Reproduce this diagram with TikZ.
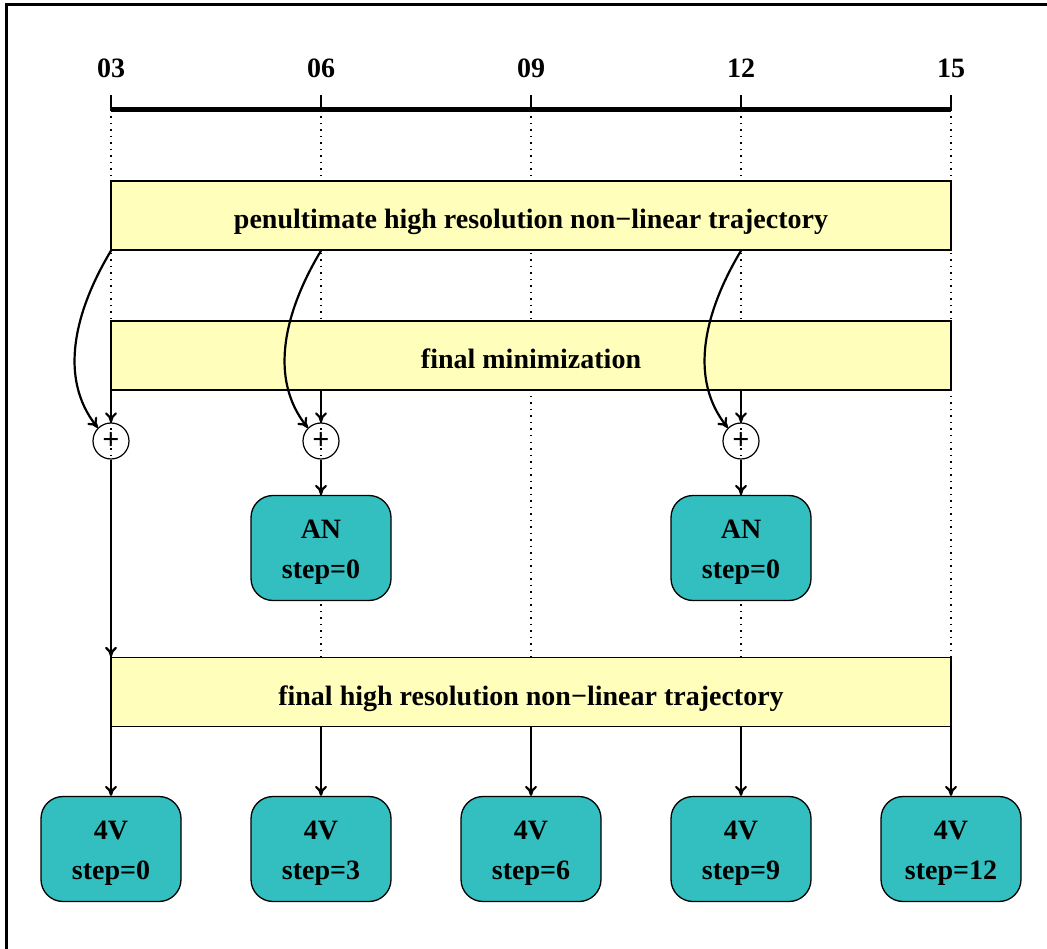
\documentclass[tikz,border=0pt]{standalone}
\usepackage{fontspec}
\setmainfont{Liberation Serif}
\usetikzlibrary{arrows.meta}
\definecolor{bandc}{RGB}{255,255,187}
\definecolor{tealc}{RGB}{51,191,191}
\newcommand{\topstrut}{\rule{0pt}{27pt}}
\begin{document}
\begin{tikzpicture}[x=1pt,y=-1pt,
  txt/.style={font=\fontsize{28}{40}\selectfont\bfseries},
  band/.style={txt, draw, line width=1.4pt, fill=bandc, minimum width=840pt, minimum height=69pt, inner sep=0pt, text height=26pt, text depth=0pt},
  box/.style={txt, draw, line width=1.3pt, fill=tealc, rounded corners=22pt, minimum width=140pt, minimum height=105pt, align=center, inner sep=0pt},
  plus/.style={draw, line width=1.2pt, circle, minimum size=36pt, inner sep=0pt, font=\fontsize{30}{30}\selectfont\bfseries},
  arr/.style={-{To[length=10pt,width=12pt]}, line width=2.2pt},
  dotl/.style={line width=1.3pt, dash pattern=on 1.5pt off 5pt},
  lbl/.style={txt}]
\useasboundingbox (0,0) rectangle (1047,949);
% frame
\draw[line width=3pt] (6,949) -- (6,5) -- (1047,5);
% timeline
\foreach \x/\t/\n in {111/03/a,321/06/b,531/09/c,741/12/d,951/15/e}{
  \node[lbl] (l\n) at (\x,68) {\t};
  \coordinate (t\n) at (\x,110);
  \coordinate (f\n) at (\x,657);
  \draw[dotl] (t\n) -- (f\n);
  \draw[line width=1.8pt] (\x,95) -- (t\n);
}
\draw[line width=5pt] (ta) -- (te);
% bands
\node[band] (pen) at (531,215.5) {penultimate high resolution non−linear trajectory};
\node[band] (fmin) at (531,355.5) {final minimization};
\node[band] (fin) at (531,692) {final high resolution non−linear trajectory};
% plus circles
\node[plus] (pa) at (111,441) {+};
\node[plus] (pb) at (321,441) {+};
\node[plus] (pd) at (741,441) {+};
% AN boxes
\node[box] (anb) at (321,548) {\topstrut AN\\step=0};
\node[box] (and) at (741,548) {\topstrut AN\\step=0};
% 4V boxes
\node[box] (va) at (111,849) {\topstrut 4V\\step=0};
\node[box] (vb) at (321,849) {\topstrut 4V\\step=3};
\node[box] (vc) at (531,849) {\topstrut 4V\\step=6};
\node[box] (vd) at (741,849) {\topstrut 4V\\step=9};
\node[box] (ve) at (951,849) {\topstrut 4V\\step=12};
% arrows into plus circles
\foreach \n in {a,b,d}{
  \draw[arr] (fmin.south -| p\n) -- (p\n.north);
  \draw[arr] (pen.south -| p\n) .. controls ++(-36,60) and ++(-40,-50) .. (p\n.135);
}
\draw[arr] (pb.south) -- (anb.north);
\draw[arr] (pd.south) -- (and.north);
\draw[arr] (pa.south) -- (fin.north -| pa);
% arrows to 4V
\foreach \n in {a,b,c,d,e}{
  \draw[arr] (fin.south -| v\n) -- (v\n.north);
}
\end{tikzpicture}
\end{document}
